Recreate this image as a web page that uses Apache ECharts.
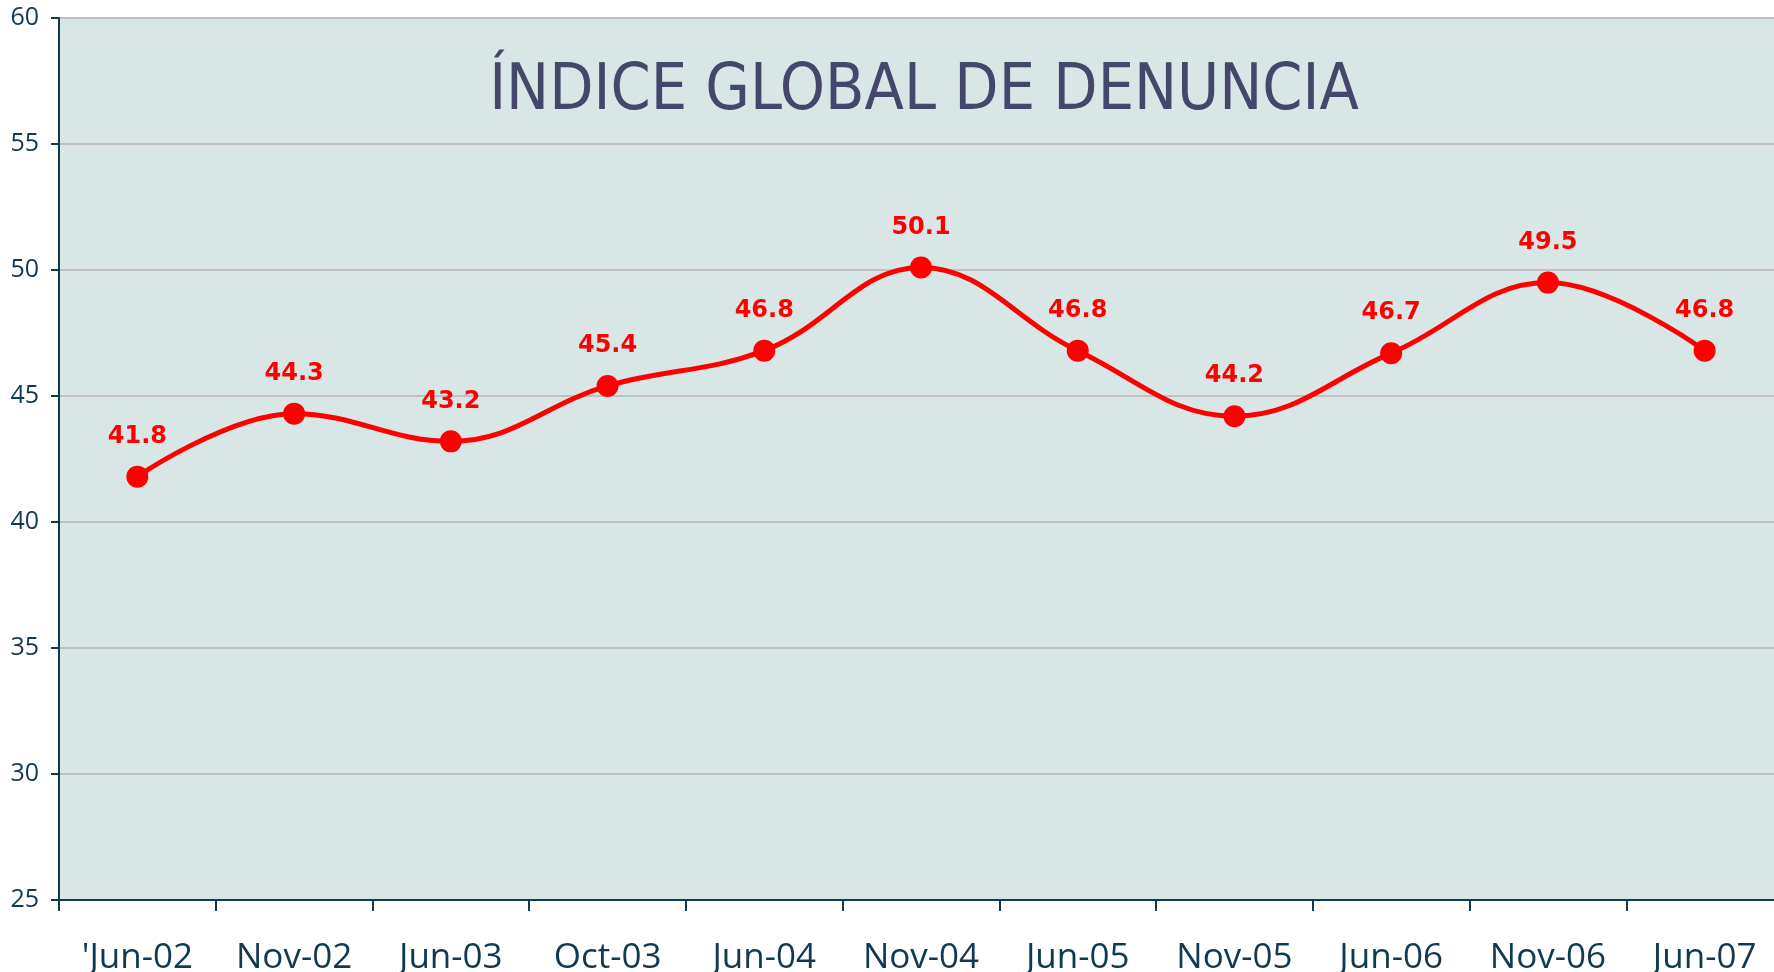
<!DOCTYPE html>
<html>
<head>
<meta charset="utf-8">
<title>Índice global de denuncia</title>
<script src="https://cdn.jsdelivr.net/npm/echarts@6/dist/echarts.min.js"></script>
<style>
  html, body { margin: 0; padding: 0; background: #fff; }
  #chart { width: 1774px; height: 972px; }
</style>
</head>
<body>
<div id="chart"></div>
<script>
// datos
const categories = ["'Jun-02", 'Nov-02', 'Jun-03', 'Oct-03', 'Jun-04', 'Nov-04', 'Jun-05', 'Nov-05', 'Jun-06', 'Nov-06', 'Jun-07'];
const indice = [41.8, 44.3, 43.2, 45.4, 46.8, 50.1, 46.8, 44.2, 46.7, 49.5, 46.8];
const yTicks = { min: 25, max: 60, interval: 5 };

const axisColor = '#0f3a52';

let chart = echarts.init(document.getElementById('chart'));

chart.setOption({
  backgroundColor: '#ffffff',
  animation: false,
  // el área de trazado sobrepasa un poco el borde derecho, como en el original
  grid: {
    left: 59,
    top: 18,
    width: 1724,
    height: 882,
    outerBoundsMode: 'none',
    containLabel: false,
    show: true,
    backgroundColor: '#d8e6e6',
    borderWidth: 0
  },
  graphic: [{
    type: 'text',
    x: 924,
    y: 60,
    style: {
      text: 'ÍNDICE GLOBAL DE DENUNCIA',
      font: '64px "Liberation Sans Narrow", "DejaVu Sans Condensed", sans-serif',
      fill: '#45476a',
      align: 'center',
      verticalAlign: 'top'
    }
  }],
  xAxis: {
    type: 'category',
    data: categories,
    boundaryGap: true,
    axisLine: { lineStyle: { color: axisColor, width: 2 } },
    axisTick: { show: true, length: 11, lineStyle: { color: axisColor, width: 2 } },
    axisLabel: {
      margin: 41,
      color: axisColor,
      fontSize: 35,
      fontFamily: '"Open Sans", sans-serif',
      interval: 0
    },
    splitLine: { show: false }
  },
  yAxis: {
    type: 'value',
    min: yTicks.min,
    max: yTicks.max,
    interval: yTicks.interval,
    axisLine: { show: true, lineStyle: { color: axisColor, width: 2 } },
    axisTick: { show: true, length: 8, lineStyle: { color: axisColor, width: 2 } },
    axisLabel: {
      margin: 20,
      color: axisColor,
      fontSize: 25,
      fontFamily: '"Open Sans", sans-serif'
    },
    splitLine: { lineStyle: { color: '#c0c0c0', width: 2 } }
  },
  series: [{
    type: 'line',
    data: indice,
    smooth: 0.4,
    symbol: 'circle',
    symbolSize: 22,
    lineStyle: { color: '#ff0000', width: 5 },
    itemStyle: { color: '#ff0000' },
    label: {
      show: true,
      position: 'top',
      distance: 17,
      color: '#ff0000',
      fontSize: 24,
      fontWeight: 'bold',
      fontFamily: '"DejaVu Sans", sans-serif',
      formatter: p => p.value.toFixed(1)
    }
  }]
});
</script>
</body>
</html>
